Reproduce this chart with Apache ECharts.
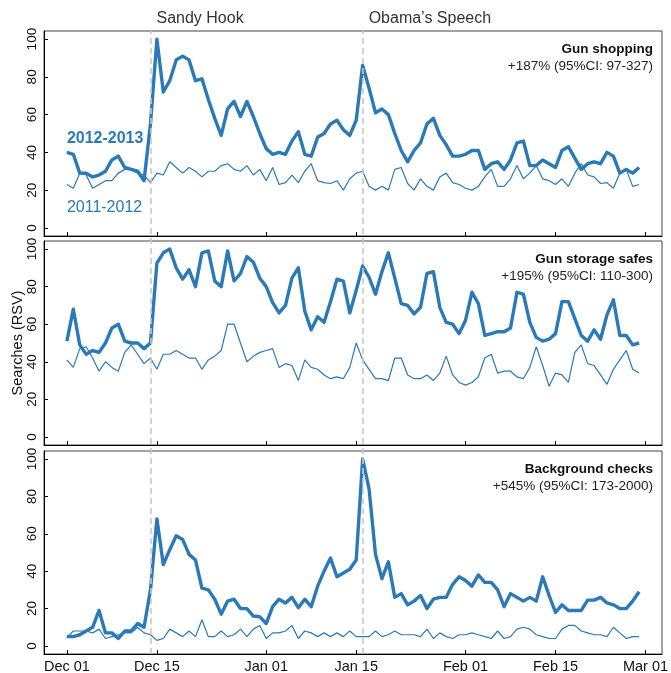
<!DOCTYPE html>
<html>
<head>
<meta charset="utf-8">
<script src="https://cdn.jsdelivr.net/npm/echarts@6/dist/echarts.min.js"></script>
<style>
html,body{margin:0;padding:0;background:#fff;}
#chart{width:671px;height:673px;}
</style>
</head>
<body>
<div id="chart"></div>
<script>
// ---- data (day 0 = Dec 01) ----
const xTickDays = [0, 14, 31, 45, 62, 76, 90];
const xTickLabels = ['Dec 01', 'Dec 15', 'Jan 01', 'Jan 15', 'Feb 01', 'Feb 15', 'Mar 01'];
const yTicks = [0, 20, 40, 60, 80, 100];
const eventDays = [13, 46];
const eventNames = ['Sandy Hook', 'Obama\u2019s Speech'];
const seriesNames = ['2012-2013', '2011-2012'];

const panelTitles = ['Gun shopping', 'Gun storage safes', 'Background checks'];
const panelStats = ['+187% (95%CI: 97-327)', '+195% (95%CI: 110-300)', '+545% (95%CI: 173-2000)'];

const shopping2013 = [40,39,29,29,27,28,30,36,38,32,31,30,25,55,100,72,78,89,91,89,78,79,68,58,49,63,67,59,67,59,50,42,39,40,39,46,51,39,38,48,50,55,57,52,49,57,86,74,61,63,60,50,41,35,41,45,55,58,49,44,38,38,39,41,41,31,34,35,31,36,45,46,33,33,36,34,32,41,43,37,31,34,35,34,40,38,29,31,29,32];
const shopping2012 = [23,21,29,28,21,23,25,25,29,31,31,29,28,24,29,28,35,32,29,32,30,27,30,30,33,34,31,30,33,28,31,25,32,23,24,28,24,30,34,25,24,23.5,25,20,26,29,30,22,20,22,20,31,32,23.5,20,26,22,20,27,29,24,23,21,20,22,27,31,22,22,26,33,26,29,33,26,25,23,26,22,29,34,28,27,23.5,24,21,29,31,22,23];

const safes2013 = [51,68,49,44,46,45,50,58,60,51,50,50,47,50,92.5,98,100,90,84,89,80,98,99,83,80,99,83,87,96,93,84.5,80,71.5,66,70,84.5,90,67,57,64,61,72,84,83,66,78,91,85,76,88,98,84.5,71,70,65.5,69,87,88,69,61,60,55,62,77,71,54,55,56,56,58,77,76,61,53,51,52,55,72,72,63,54,51,57,52,65,73,54,54,49,50];
const safes2012 = [41,37,47,48,42,35,40,37,35,45,49,44,39,42,36,44,44,46,44,42,42,36,41,43,46,60,60,50,40,43,45,46,47,37,39,38,30,41,37,36,33,31,32,31,37,50,41,36,31,31,30,42,42,33,31,31,33,30,34,43,33,29,27.6,29,32,42,44,34,35,35,32,31,37,48,38,27,34,33,29,45,49,39,38,33,28,36,41,46,36,34];

const checks2013 = [5,5,6,8,10,19,7,7,4,8,8,12,10,30,68,43.5,51.5,59,57,49,46,31,30,25,17,24,25,20,20,16,15.6,12,21,25,23,26,20.5,25,21,32,40,47,37,39,41,46,100,84,49,36,45,26,28,22,24,27,20,25,26,26,33,37,35,32,38,34,34,30,21,28,26,24,26,24,37,27,18,22,19,19,19,24.5,24.5,26,23,22,20,20,24,29];
const checks2012 = [4.5,8,8,8,7,9,4,5,6,7,7,10,7,6,3,4,9,7,5,8,5,14,5,5,8,5,6,9,5,9,11,4,7,7,8,11,4,8,7,5,7,5,7,5,8,5,5,5,8,5,6,8,6,6,6,5,9,4,7,5,4,6,6,7,6,5,4,8,4,5,9,10,9,6,5,4,4,9,11,11,8,7,6,6,5,10,7,4,5,5];

const panels = [[shopping2013, shopping2012], [safes2013, safes2012], [checks2013, checks2012]];

// ---- layout / style ----
const BLUE = '#2a7ab8';
const FONT = '"Liberation Sans", Arial, Helvetica, sans-serif';
const XMIN = -3.56, XMAX = 92.56, YMIN = -4.3, YMAX = 104.3;
const gridBoxes = [{top: 31, height: 205}, {top: 241, height: 204}, {top: 451, height: 203}];
const LEFT = 44, RIGHT = 9;

const toPairs = arr => arr.map((v, i) => [i, v]);

const grids = [], xAxes = [], yAxes = [], series = [];
gridBoxes.forEach((g, i) => {
  grids.push({left: LEFT, right: RIGHT, top: g.top, height: g.height, show: true, containLabel: false,
    outerBoundsMode: 'none',
    borderColor: '#444', borderWidth: 1, backgroundColor: 'transparent'});
  xAxes.push({
    type: 'value', gridIndex: i, min: XMIN, max: XMAX,
    axisLine: {show: true, onZero: false, lineStyle: {color: '#000', width: 1}},
    axisTick: {show: true, inside: true, length: 4, lineStyle: {color: '#000'}, customValues: xTickDays},
    axisLabel: {show: i === 2, customValues: xTickDays, color: '#111', fontSize: 14.5, fontFamily: FONT, margin: 5,
      formatter: v => { const k = xTickDays.indexOf(Math.round(v)); return k >= 0 ? xTickLabels[k] : ''; }},
    splitLine: {show: false}
  });
  yAxes.push({
    type: 'value', gridIndex: i, min: YMIN, max: YMAX,
    axisLine: {show: true, onZero: false, lineStyle: {color: '#000', width: 1}},
    axisTick: {show: true, inside: true, length: 4, lineStyle: {color: '#000'}, customValues: yTicks},
    axisLabel: {show: true, customValues: yTicks, rotate: 90, color: '#111', fontSize: 13.5, fontFamily: FONT, margin: 5},
    splitLine: {show: false},
    name: i === 1 ? 'Searches (RSV)' : '', nameLocation: 'middle', nameRotate: 90, nameGap: 19,
    nameMoveOverlap: false,
    nameTextStyle: {fontSize: 14.5, color: '#111', fontFamily: FONT}
  });
  series.push({
    name: seriesNames[1], type: 'line', xAxisIndex: i, yAxisIndex: i, data: toPairs(panels[i][1]),
    showSymbol: false, symbol: 'none', lineStyle: {color: BLUE, width: 1.2}, z: 3, animation: false
  });
  series.push({
    name: seriesNames[0], type: 'line', xAxisIndex: i, yAxisIndex: i, data: toPairs(panels[i][0]),
    showSymbol: false, symbol: 'none', lineStyle: {color: BLUE, width: 3.4, join: 'round'}, z: 4, animation: false
  });
});

// overlay grid for event lines spanning all panels
grids.push({left: LEFT, right: RIGHT, top: 31, bottom: 19, show: false, outerBoundsMode: 'none'});
xAxes.push({type: 'value', gridIndex: 3, min: XMIN, max: XMAX, show: false});
yAxes.push({type: 'value', gridIndex: 3, min: 0, max: 1, show: false});
series.push({
  type: 'line', xAxisIndex: 3, yAxisIndex: 3, data: [], z: 1, animation: false,
  markLine: {silent: true, symbol: 'none', animation: false,
    lineStyle: {color: '#c8c8c8', type: [6, 4], width: 1.6},
    label: {show: false},
    data: eventDays.map(d => ({xAxis: d}))}
});

const chart = echarts.init(document.getElementById('chart'), null, {renderer: 'canvas'});
chart.setOption({
  animation: false,
  grid: grids, xAxis: xAxes, yAxis: yAxes, series: series
});

// annotations positioned through the chart's own scales
const gfx = [];
eventDays.forEach((d, k) => {
  const px = chart.convertToPixel({xAxisIndex: 3}, d);
  gfx.push({type: 'text', x: px + 6, y: 19,
    style: {text: eventNames[k], fontSize: 16, fill: '#333', fontFamily: FONT, verticalAlign: 'middle'}});
});
const rightX = 671 - RIGHT - 9;
gridBoxes.forEach((g, i) => {
  gfx.push({type: 'text', x: rightX, y: g.top + 18,
    style: {text: panelTitles[i], fontSize: 13.5, fontWeight: 'bold', fill: '#111', fontFamily: FONT,
      align: 'right', verticalAlign: 'middle'}});
  gfx.push({type: 'text', x: rightX, y: g.top + 35,
    style: {text: panelStats[i], fontSize: 13.5, fill: '#222', fontFamily: FONT,
      align: 'right', verticalAlign: 'middle'}});
});
const p0 = chart.convertToPixel({xAxisIndex: 0, yAxisIndex: 0}, [0, 47.5]);
const p1 = chart.convertToPixel({xAxisIndex: 0, yAxisIndex: 0}, [0, 11]);
gfx.push({type: 'text', x: p0[0], y: p0[1],
  style: {text: seriesNames[0], fontSize: 16, fontWeight: 'bold', fill: BLUE, fontFamily: FONT, verticalAlign: 'middle'}});
gfx.push({type: 'text', x: p1[0], y: p1[1],
  style: {text: seriesNames[1], fontSize: 16, fill: BLUE, fontFamily: FONT, verticalAlign: 'middle'}});
chart.setOption({graphic: gfx});
</script>
</body>
</html>
